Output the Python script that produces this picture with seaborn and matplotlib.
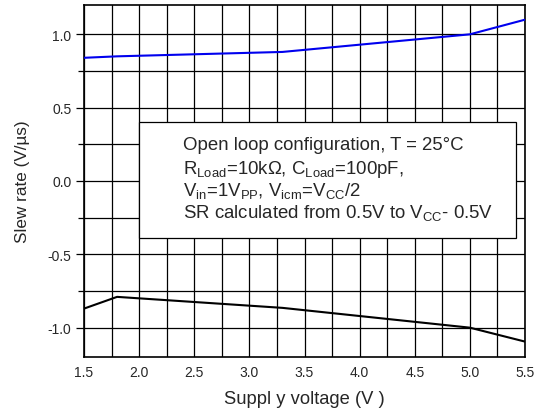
import numpy as np
import pandas as pd
import matplotlib
matplotlib.use("Agg")
import matplotlib.pyplot as plt
from matplotlib.ticker import MultipleLocator
import seaborn as sns

# values
supply_v = [1.5, 1.8, 3.3, 5.0, 5.5]
sr_pos = [0.84, 0.85, 0.88, 1.00, 1.10]
sr_neg = [-0.87, -0.79, -0.865, -1.00, -1.095]

df = pd.DataFrame({
    "vcc": supply_v * 2,
    "sr": sr_pos + sr_neg,
    "edge": ["rise"] * len(supply_v) + ["fall"] * len(supply_v),
})

sns.set_style("white")
plt.rcParams['font.family'] = ['Liberation Sans', 'DejaVu Sans']
plt.rcParams['mathtext.fontset'] = 'custom'
plt.rcParams['mathtext.rm'] = 'Liberation Sans'
plt.rcParams['mathtext.it'] = 'Liberation Sans'

fig = plt.figure(figsize=(5.34, 4.14), dpi=100)
ax = fig.add_axes([84/534, 1 - 358/414, 441/534, 352/414])

sns.lineplot(data=df, x="vcc", y="sr", hue="edge",
             palette={"rise": "#0000ee", "fall": "black"},
             linewidth=1.5, legend=False, ax=ax, zorder=3)

ax.set_xlim(1.5, 5.5)
ax.set_ylim(-1.2, 1.2)
ax.xaxis.set_major_locator(MultipleLocator(0.5))
ax.xaxis.set_minor_locator(MultipleLocator(0.25))
ax.yaxis.set_major_locator(MultipleLocator(0.5))
ax.yaxis.set_minor_locator(MultipleLocator(0.25))
ax.xaxis.set_major_formatter(matplotlib.ticker.FormatStrFormatter("%.1f"))
ax.yaxis.set_major_formatter(matplotlib.ticker.FormatStrFormatter("%.1f"))
ax.grid(True, which="both", color="black", linewidth=0.9)
ax.tick_params(axis="y", which="major", direction="out", length=6, width=0.9,
               left=True, labelsize=10, color="black", pad=3)
ax.tick_params(axis="y", which="minor", direction="out", length=4, width=0.9,
               left=True, color="black")
ax.tick_params(axis="x", which="both", length=0, labelsize=10, pad=6)
for s in ax.spines.values():
    s.set_color("black")
    s.set_linewidth(1.2)

ax.set_xlabel("Suppl y voltage (V )", fontsize=13.2, labelpad=8)
ax.set_ylabel("Slew rate (V/µs)", fontsize=12.3, labelpad=13)

box = plt.Rectangle((0.125, 0.337), 0.855, 0.332, transform=ax.transAxes,
                    facecolor="white", edgecolor="black", linewidth=0.9, zorder=4)
ax.add_patch(box)
lines = [
    "Open loop configuration, T = 25°C",
    r"R$_{\mathrm{Load}}$=10kΩ, C$_{\mathrm{Load}}$=100pF,",
    r"V$_{\mathrm{in}}$=1V$_{\mathrm{PP}}$, V$_{\mathrm{icm}}$=V$_{\mathrm{CC}}$/2",
    r"SR calculated from 0.5V to V$_{\mathrm{CC}}$- 0.5V",
]
for i, t in enumerate(lines):
    ax.text(0.225, 0.628 - i * 0.0625, t, transform=ax.transAxes, fontsize=13.4,
            va="top", ha="left", zorder=5)

fig.savefig("out.png", dpi=100)
